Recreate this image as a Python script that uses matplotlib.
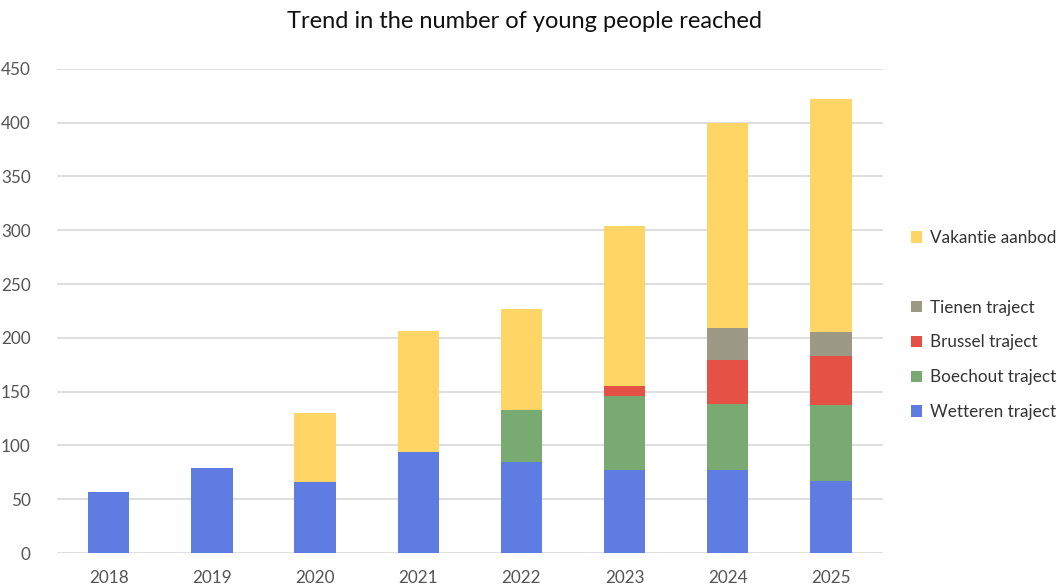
import matplotlib
matplotlib.use("Agg")
import matplotlib.pyplot as plt
from matplotlib.patches import Patch

plt.rcParams['font.family'] = ['Lato', 'DejaVu Sans']

years = ["2018", "2019", "2020", "2021", "2022", "2023", "2024", "2025"]
wetteren = [57, 79, 66, 94, 85, 77, 77, 67]
boechout = [0, 0, 0, 0, 48, 69, 62, 71]
brussel = [0, 0, 0, 0, 0, 9, 40, 45]
tienen = [0, 0, 0, 0, 0, 0, 30, 22]
vakantie = [0, 0, 64, 112, 94, 149, 191, 217]

series = [
    ("Wetteren traject", wetteren, "#5E7CE2"),
    ("Boechout traject", boechout, "#79AA71"),
    ("Brussel traject", brussel, "#E55245"),
    ("Tienen traject", tienen, "#9C9A85"),
    ("Vakantie aanbod", vakantie, "#FFD666"),
]

fig = plt.figure(figsize=(10.57, 5.84), dpi=100)
ax = fig.add_axes([0.054, 0.053, 0.781, 0.829])

x = list(range(len(years)))
bottom = [0] * len(years)
handles = {}
for name, vals, color in series:
    ax.bar(x, vals, width=0.4, bottom=bottom, color=color,
           edgecolor="none", zorder=3)
    handles[name] = Patch(facecolor=color, edgecolor="none")
    bottom = [b + v for b, v in zip(bottom, vals)]

ax.set_xlim(-0.5, len(years) - 0.5)
ax.set_ylim(0, 450)
ax.set_yticks(range(0, 451, 50))
ax.set_xticks(x)
ax.set_xticklabels(years)
ax.grid(axis="y", color="#D9D9D9", linewidth=1.2, zorder=0)
for s in ax.spines.values():
    s.set_visible(False)
ax.tick_params(axis="both", length=0, labelsize=12.3, labelcolor="#555555")
ax.tick_params(axis="y", pad=19)
ax.tick_params(axis="x", pad=12)

fig.text(0.496, 0.963, "Trend in the number of young people reached",
         fontsize=17, color="#111111", ha="center", va="center")

blank = Patch(facecolor="none", edgecolor="none")
order = ["Vakantie aanbod", None, "Tienen traject", "Brussel traject",
         "Boechout traject", "Wetteren traject"]
leg_handles = [handles[n] if n else blank for n in order]
leg_labels = [n if n else " " for n in order]
fig.legend(leg_handles, leg_labels, loc="upper left",
           bbox_to_anchor=(0.862, 0.606), frameon=False, fontsize=12.3,
           labelcolor="#333333", handlelength=0.65, handleheight=0.65,
           handletextpad=0.45, labelspacing=1.1, borderaxespad=0,
           borderpad=0)

fig.savefig("out.png", dpi=100, facecolor="white")
